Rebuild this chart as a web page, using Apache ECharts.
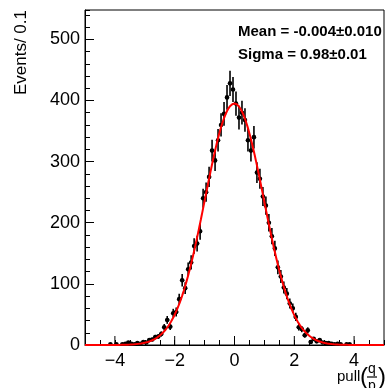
<!DOCTYPE html>
<html><head><meta charset="utf-8">
<script src="https://cdn.jsdelivr.net/npm/echarts@6/dist/echarts.min.js"></script>
<style>html,body{margin:0;padding:0;background:#fff}#c{width:387px;height:388px}</style>
</head><body><div id="c"></div>
<script>
// ---- data ----
const binWidth = 0.1;
const binCenters = [-4.15,-4.05,-3.95,-3.85,-3.75,-3.65,-3.55,-3.45,-3.35,-3.25,-3.15,-3.05,-2.95,-2.85,-2.75,-2.65,-2.55,-2.45,-2.35,-2.25,-2.15,-2.05,-1.95,-1.85,-1.75,-1.65,-1.55,-1.45,-1.35,-1.25,-1.15,-1.05,-0.95,-0.85,-0.75,-0.65,-0.55,-0.45,-0.35,-0.25,-0.15,-0.05,0.05,0.15,0.25,0.35,0.45,0.55,0.65,0.75,0.85,0.95,1.05,1.15,1.25,1.35,1.45,1.55,1.65,1.75,1.85,1.95,2.05,2.15,2.25,2.35,2.45,2.55,2.65,2.75,2.85,2.95,3.05,3.15,3.25,3.35,3.45,3.55,3.65,3.75,3.85,3.95];
const counts = [1,0,1,0,1,2,4,2,1,3,2,5,4,8,9,13,14,18,29,41,30,52,54,75,106,93,124,135,162,166,186,240,250,275,318,302,335,360,378,405,428,418,395,372,380,368,335,318,340,282,272,243,228,200,178,158,127,112,94,84,68,60,46,29,26,16,24,5,10,6,8,4,3,3,2,1,2,1,0,1,1,0];
// Gaussian fit parameters (shown on the chart) and fitted peak height
const fitMean = -0.004, fitSigma = 0.98, fitPeak = 395;
const xMin = -5, xMax = 5, yMin = 0, yMax = 548;
const xTickValues = [-4,-2,0,2,4];
const xTickLabels = ['\u22124','\u22122','0','2','4'];
const yTickValues = [0,100,200,300,400,500];
const yTickLabels = ['0','100','200','300','400','500'];
const statLines = ['Mean = -0.004\u00b10.010','Sigma = 0.98\u00b10.01'];
const yTitle = 'Events/ 0.1';

// ---- build ----
const pts = binCenters.map((x,i)=>[x,counts[i]]);
const curve = [];
for (let k=0;k<=400;k++){ const x = xMin + (xMax-xMin)*k/400; curve.push([x, fitPeak*Math.exp(-0.5*Math.pow((x-fitMean)/fitSigma,2))]); }
const FONT = 'Liberation Sans, Arial, Helvetica, sans-serif';
const chart = echarts.init(document.getElementById('c'), null, {renderer:'canvas'});
chart.setOption({
  animation:false,
  backgroundColor:'#fff',
  grid:{left:85,right:-1,top:10,bottom:43,show:true,borderColor:'#000',borderWidth:1,backgroundColor:'transparent'},
  xAxis:[{
    type:'value',min:xMin,max:xMax,interval:0.5,position:'bottom',
    axisLine:{show:true,onZero:false,lineStyle:{color:'#000',width:1}},
    axisTick:{show:true,inside:true,length:5,lineStyle:{color:'#000'}},
    splitLine:{show:false},
    axisLabel:{margin:7,color:'#000',fontSize:18,fontFamily:FONT,
      formatter:v=>{const i=xTickValues.findIndex(t=>Math.abs(t-v)<1e-6);return i>=0?xTickLabels[i]:'';}}
  }],
  yAxis:[{
    type:'value',min:yMin,max:yMax,interval:100,position:'left',
    axisLine:{show:true,onZero:false,lineStyle:{color:'#000',width:1}},
    axisTick:{show:true,inside:true,length:9,lineStyle:{color:'#000'}},
    splitLine:{show:false},
    axisLabel:{margin:5,color:'#000',fontSize:18,fontFamily:FONT,showMaxLabel:false,
      formatter:v=>{const i=yTickValues.indexOf(v);return i>=0?yTickLabels[i]:'';}}
  },{
    type:'value',min:yMin,max:yMax,interval:20,position:'left',
    axisLine:{show:false,onZero:false},
    axisTick:{show:true,inside:true,length:5,lineStyle:{color:'#000'}},
    axisLabel:{show:false},splitLine:{show:false}
  }],
  series:[
    {type:'custom',xAxisIndex:0,yAxisIndex:0,data:xTickValues,silent:true,z:3,
     renderItem:(p,api)=>{const a=api.coord([api.value(0),yMin]);return {type:'line',shape:{x1:a[0],y1:a[1],x2:a[0],y2:a[1]-9},style:{stroke:'#000',lineWidth:1}};}},
    {type:'custom',xAxisIndex:0,yAxisIndex:0,data:pts,silent:true,z:4,clip:true,
     renderItem:(p,api)=>{
       const x=api.value(0),y=api.value(1); if(!(y>0)) return null;
       const e=Math.sqrt(y);
       const c=api.coord([x,y]),lo=api.coord([x,y-e]),hi=api.coord([x,y+e]);
       const l=api.coord([x-binWidth/2,y]),r=api.coord([x+binWidth/2,y]);
       return {type:'group',children:[
         {type:'line',shape:{x1:c[0],y1:hi[1],x2:c[0],y2:lo[1]},style:{stroke:'#000',lineWidth:1.6}},
         {type:'line',shape:{x1:l[0]-0.5,y1:c[1],x2:r[0]+0.5,y2:c[1]},style:{stroke:'#000',lineWidth:1.6}},
         {type:'circle',shape:{cx:c[0],cy:c[1],r:2.3},style:{fill:'#000'}}
       ]};
     }},
    {type:'line',xAxisIndex:0,yAxisIndex:0,data:curve,showSymbol:false,smooth:false,z:5,clip:true,
     lineStyle:{color:'#ff0000',width:2},silent:true}
  ],
  graphic:[
    {type:'text',x:238,y:32,style:{text:statLines[0],fontSize:15,fontWeight:'bold',fontFamily:FONT,fill:'#000',verticalAlign:'middle'}},
    {type:'text',x:238,y:55,style:{text:statLines[1],fontSize:15,fontWeight:'bold',fontFamily:FONT,fill:'#000',verticalAlign:'middle'}},
    {type:'text',x:21,y:10,rotation:Math.PI/2,style:{text:yTitle,fontSize:17,fontFamily:FONT,fill:'#000',align:'right',verticalAlign:'middle'}},
    {type:'text',x:337,y:377,style:{text:'pull',fontSize:15,fontFamily:FONT,fill:'#000',verticalAlign:'middle'}},
    {type:'text',x:360,y:377,style:{text:'(',fontSize:24,fontFamily:FONT,fill:'#000',verticalAlign:'middle'}},
    {type:'text',x:372,y:369,style:{text:'q',fontSize:14,fontFamily:FONT,fill:'#000',align:'center',verticalAlign:'middle'}},
    {type:'line',shape:{x1:367,y1:377,x2:377,y2:377},style:{stroke:'#000',lineWidth:1.2}},
    {type:'text',x:372,y:386,style:{text:'p',fontSize:14,fontFamily:FONT,fill:'#000',align:'center',verticalAlign:'middle'}},
    {type:'text',x:378,y:377,style:{text:')',fontSize:24,fontFamily:FONT,fill:'#000',verticalAlign:'middle'}}
  ]
});
</script></body></html>
